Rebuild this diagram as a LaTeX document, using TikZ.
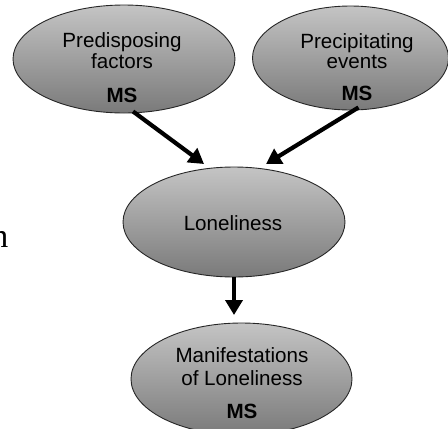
\documentclass[tikz,border=0pt]{standalone}
\usepackage{fontspec}
\setmainfont{Liberation Sans}
\newfontfamily\serifn{Liberation Serif}
\usetikzlibrary{shapes.geometric,arrows.meta}
\definecolor{elltop}{RGB}{196,196,196}
\definecolor{ellbot}{RGB}{122,122,122}
\tikzset{
  oval/.style={ellipse, draw=black!85, line width=0.9pt, top color=elltop, bottom color=ellbot, inner sep=0pt},
  txt/.style={anchor=base, inner sep=0pt, font=\fontsize{20.6}{24}\selectfont},
  boldtxt/.style={txt, font=\fontsize{20.6}{24}\selectfont\bfseries},
  arr/.style={line width=4.2pt, -{Triangle[length=15pt,width=17pt]}}
}
\begin{document}
\begin{tikzpicture}[x=1pt,y=-1pt]
\useasboundingbox (0,0) rectangle (448,429);
% ellipses
\node[oval, minimum width=222pt, minimum height=108pt] (pf) at (124,59) {};
\node[oval, minimum width=196pt, minimum height=104pt] (pe) at (350.5,58) {};
\node[oval, minimum width=222pt, minimum height=110pt] (lo) at (234,222) {};
\node[oval, minimum width=221pt, minimum height=112pt] (ma) at (241.5,379) {};
% texts
\node[txt] (pf1) at (122,47) {Predisposing};
\node[txt] (pf2) at (122,68) {factors};
\node[boldtxt] (pf3) at (122,102) {MS};
\node[txt] (pe1) at (357,48) {Precipitating};
\node[txt] (pe2) at (357,68) {events};
\node[boldtxt] (pe3) at (357,100) {MS};
\node[txt] (lo1) at (233,230) {Loneliness};
\node[txt] (ma1) at (242,362) {Manifestations};
\node[txt] (ma2) at (242,385) {of Loneliness};
\node[boldtxt] (ma3) at (242,418) {MS};
% stray serif letter at the left edge
\node[anchor=base east, inner sep=0pt, font=\serifn\fontsize{34}{40}\selectfont] (nn) at (8.5,247) {n};
% arrows
\coordinate (t1) at (204,164);
\coordinate (t2) at (266,164);
\coordinate (t3) at (234,315);
\draw[arr] ([xshift=9pt,yshift=2pt]pf.south) -- (t1);
\draw[arr] ([xshift=8pt,yshift=3pt]pe.south) -- (t2);
\draw[arr] (lo.south) -- (t3);
\end{tikzpicture}
\end{document}
